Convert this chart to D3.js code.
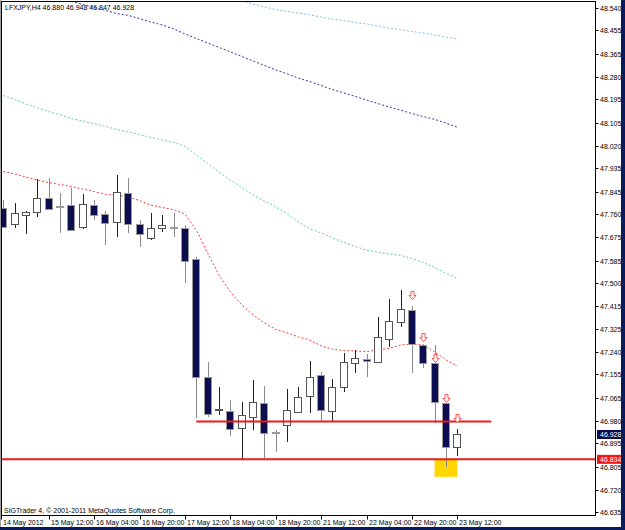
<!DOCTYPE html>
<html><head><meta charset="utf-8">
<script src="https://cdn.jsdelivr.net/npm/d3@7"></script>
<style>html,body{margin:0;padding:0;background:#fff;overflow:hidden}svg{display:block}</style>
</head><body><svg id="c" width="625" height="530"></svg>
<script>
const symbolTitle = "LFXJPY,H4  46.880 46.948 46.847 46.928";
const copyright = "SIGTrader 4, \u00a9 2001-2011 MetaQuotes Software Corp.";
const open  = [47.784,47.723,47.758,47.768,47.823,47.790,47.795,47.713,47.794,47.761,47.732,47.840,47.724,47.670,47.707,47.712,47.707,47.590,47.147,47.021,47.018,46.951,46.995,47.046,46.938,46.963,47.014,47.074,47.153,47.018,47.109,47.197,47.215,47.203,47.289,47.354,47.399,47.266,47.200,47.048,46.880];
const high  = [47.814,47.804,47.773,47.893,47.896,47.840,47.861,47.837,47.814,47.774,47.909,47.896,47.739,47.766,47.758,47.764,47.720,47.598,47.201,47.106,47.058,47.050,47.134,47.111,46.945,47.099,47.106,47.207,47.165,47.138,47.235,47.247,47.232,47.371,47.439,47.474,47.414,47.270,47.266,47.048,46.948];
const low   = [47.709,47.710,47.686,47.751,47.777,47.689,47.697,47.705,47.739,47.644,47.673,47.689,47.638,47.663,47.695,47.673,47.502,46.989,46.995,47.002,46.922,46.834,46.945,46.840,46.863,46.901,47.008,47.011,46.980,46.980,47.090,47.162,47.144,47.197,47.260,47.335,47.162,47.178,46.973,46.806,46.847];
const close = [47.712,47.764,47.769,47.821,47.780,47.788,47.701,47.799,47.758,47.729,47.843,47.724,47.685,47.707,47.719,47.710,47.585,47.147,47.004,47.024,46.948,47.002,47.050,46.935,46.934,47.021,47.071,47.144,47.021,47.106,47.201,47.216,47.207,47.295,47.357,47.401,47.270,47.200,47.050,46.880,46.928];
const maRed  = [47.922,47.913,47.901,47.890,47.880,47.873,47.865,47.856,47.846,47.836,47.833,47.827,47.812,47.795,47.786,47.778,47.761,47.701,47.614,47.531,47.467,47.418,47.380,47.350,47.325,47.312,47.297,47.285,47.263,47.250,47.245,47.244,47.241,47.247,47.254,47.266,47.270,47.266,47.241,47.210,47.187];
const maTeal = [48.209,48.194,48.177,48.163,48.149,48.136,48.122,48.113,48.103,48.092,48.081,48.071,48.062,48.051,48.041,48.032,48.018,47.984,47.952,47.920,47.890,47.862,47.833,47.811,47.788,47.763,47.731,47.705,47.690,47.671,47.654,47.639,47.625,47.617,47.610,47.605,47.593,47.578,47.559,47.538,47.518];
const maNavy = [null,null,null,null,null,null,48.565,48.553,48.542,48.531,48.519,48.512,48.500,48.487,48.476,48.461,48.442,48.425,48.408,48.391,48.374,48.357,48.340,48.323,48.306,48.291,48.275,48.262,48.247,48.232,48.219,48.206,48.192,48.179,48.166,48.154,48.141,48.130,48.119,48.105,48.089];
const maSky  = [null,null,null,null,null,null,null,null,null,null,null,null,null,null,null,null,null,null,null,null,null,48.568,48.555,48.544,48.534,48.527,48.521,48.514,48.506,48.498,48.492,48.485,48.480,48.472,48.464,48.459,48.451,48.446,48.438,48.430,48.423];
const priceTicks = [48.540,48.455,48.365,48.280,48.195,48.105,48.020,47.935,47.845,47.760,47.675,47.585,47.500,47.415,47.325,47.240,47.155,47.065,46.980,46.895,46.805,46.720,46.635];
const timeTickBars = [0,4,8,12,16,20,24,28,32,36,40];
const timeTickLabels = ["14 May 2012","15 May 12:00","16 May 04:00","16 May 20:00","17 May 12:00","18 May 04:00","18 May 20:00","21 May 12:00","22 May 04:00","22 May 20:00","23 May 12:00"];
const arrowBars = [36,37,38,39,40];
const arrowPrices = [47.440,47.282,47.202,47.051,46.976];
const hLinePrice = 46.834;
const bidPrice = 46.928;
const levelBars = [17,43];
const levelPrice = 46.977;
const boxBars = [38,40];
const boxPrices = [46.834,46.768];

const svg = d3.select("#c");
const L = 1.5, T = 1.5, R = 595.5, B = 515.5;
const x = d3.scaleLinear().domain([0,40]).range([3.3,457.3]);
const y = d3.scaleLinear().domain([46.635,48.540]).range([512,8]);
const F = "'Liberation Sans', Arial, sans-serif";

svg.append("rect").attr("width",625).attr("height",530).attr("fill","#fff");
svg.append("defs").append("clipPath").attr("id","pc").append("rect")
  .attr("x",L+0.5).attr("y",T+0.5).attr("width",R-L-1).attr("height",B-T-1);
const g = svg.append("g").attr("clip-path","url(#pc)");

// yellow box
g.append("rect").attr("x",x(boxBars[0])).attr("y",y(boxPrices[0]))
  .attr("width",x(boxBars[1])-x(boxBars[0])).attr("height",y(boxPrices[1])-y(boxPrices[0]))
  .attr("fill","#ffd700");

// moving averages
const ln = d3.line().defined(d=>d!=null).x((d,i)=>x(i)).y(d=>y(d));
[[maSky,"#7ec0e0"],[maNavy,"#3a3aa0"],[maTeal,"#66cdaa"],[maRed,"#ff3c3c"]].forEach(([s,c])=>{
  g.append("path").datum(s).attr("d",ln).attr("fill","none").attr("stroke",c)
   .attr("stroke-width",1).attr("stroke-dasharray","2,2");
});

// candles
const idx = d3.range(open.length);
const cx = i => Math.round(x(i)) + 0.5;
g.selectAll(".w").data(idx).join("line")
  .attr("x1",cx).attr("x2",cx)
  .attr("y1",i=>Math.round(y(high[i]))).attr("y2",i=>Math.round(y(low[i])))
  .attr("stroke",i=>close[i]>=open[i]?"#222":"#8a8a8a").attr("stroke-width",1);
g.selectAll(".b").data(idx).join("rect")
  .attr("x",i=>Math.round(x(i))-3.5)
  .attr("y",i=>Math.round(y(Math.max(open[i],close[i])))+0.5)
  .attr("width",7)
  .attr("height",i=>Math.max(1,Math.round(y(Math.min(open[i],close[i])))-Math.round(y(Math.max(open[i],close[i])))))
  .attr("fill",i=>close[i]>=open[i]?"#fff":"#0c0c50")
  .attr("stroke",i=>close[i]>=open[i]?"#555":"#9a9a9a").attr("stroke-width",1);

// horizontal lines
g.append("line").attr("x1",x(levelBars[0])).attr("x2",x(levelBars[1]))
  .attr("y1",y(levelPrice)).attr("y2",y(levelPrice)).attr("stroke","#f01818").attr("stroke-width",2);
g.append("line").attr("x1",L).attr("x2",R)
  .attr("y1",y(hLinePrice)).attr("y2",y(hLinePrice)).attr("stroke","#f01818").attr("stroke-width",2);

// arrows
g.selectAll(".a").data(arrowBars).join("path")
  .attr("transform",(b,k)=>`translate(${Math.round(x(b))+0.5},${Math.round(y(arrowPrices[k]))+0.5})`)
  .attr("d","M-1.5,-8L1.5,-8L1.5,-4L3.5,-4L0,0L-3.5,-4L-1.5,-4Z")
  .attr("fill","#fff").attr("stroke","#ff5050").attr("stroke-width",1);

// frame
svg.append("rect").attr("x",L).attr("y",T).attr("width",R-L).attr("height",B-T)
  .attr("fill","none").attr("stroke","#000").attr("stroke-width",1);

// texts
svg.append("text").attr("x",5).attr("y",10).attr("font-family",F).attr("font-size",7)
  .attr("fill","#000").text(symbolTitle);
svg.append("text").attr("x",4).attr("y",513).attr("font-family",F).attr("font-size",7)
  .attr("fill","#000").text(copyright);

// price axis
const pa = svg.append("g");
priceTicks.forEach(p=>{
  const yy = Math.round(y(p))+0.5;
  pa.append("line").attr("x1",R).attr("x2",R+3).attr("y1",yy).attr("y2",yy).attr("stroke","#000");
  pa.append("text").attr("x",600).attr("y",yy).attr("dy","0.35em").attr("font-family",F)
    .attr("font-size",7).attr("fill","#000").text(p.toFixed(3));
});
[[bidPrice,"#0c0c50"],[hLinePrice,"#f01818"]].forEach(([p,c])=>{
  const yy = y(p);
  pa.append("rect").attr("x",597).attr("y",yy-4.5).attr("width",24).attr("height",9).attr("fill",c);
  pa.append("text").attr("x",600).attr("y",yy).attr("dy","0.35em").attr("font-family",F)
    .attr("font-size",7).attr("fill","#fff").text(p.toFixed(3));
});

// time axis
const ta = svg.append("g");
timeTickBars.forEach((b,k)=>{
  const xx = k===0 ? L : Math.round(x(b))+0.5;
  ta.append("line").attr("x1",xx).attr("x2",xx).attr("y1",B).attr("y2",B+4).attr("stroke","#000");
  ta.append("text").attr("x",xx+1.5).attr("y",525).attr("font-family",F).attr("font-size",7)
    .attr("fill","#000").text(timeTickLabels[k]);
});

// window chrome
svg.append("line").attr("x1",0.5).attr("x2",0.5).attr("y1",0).attr("y2",527).attr("stroke","#a0a0a0");
svg.append("rect").attr("x",621).attr("y",0).attr("width",4).attr("height",530).attr("fill","#0a1a5a");
svg.append("rect").attr("x",0).attr("y",527).attr("width",625).attr("height",3).attr("fill","#0a1a5a");
</script></body></html>
